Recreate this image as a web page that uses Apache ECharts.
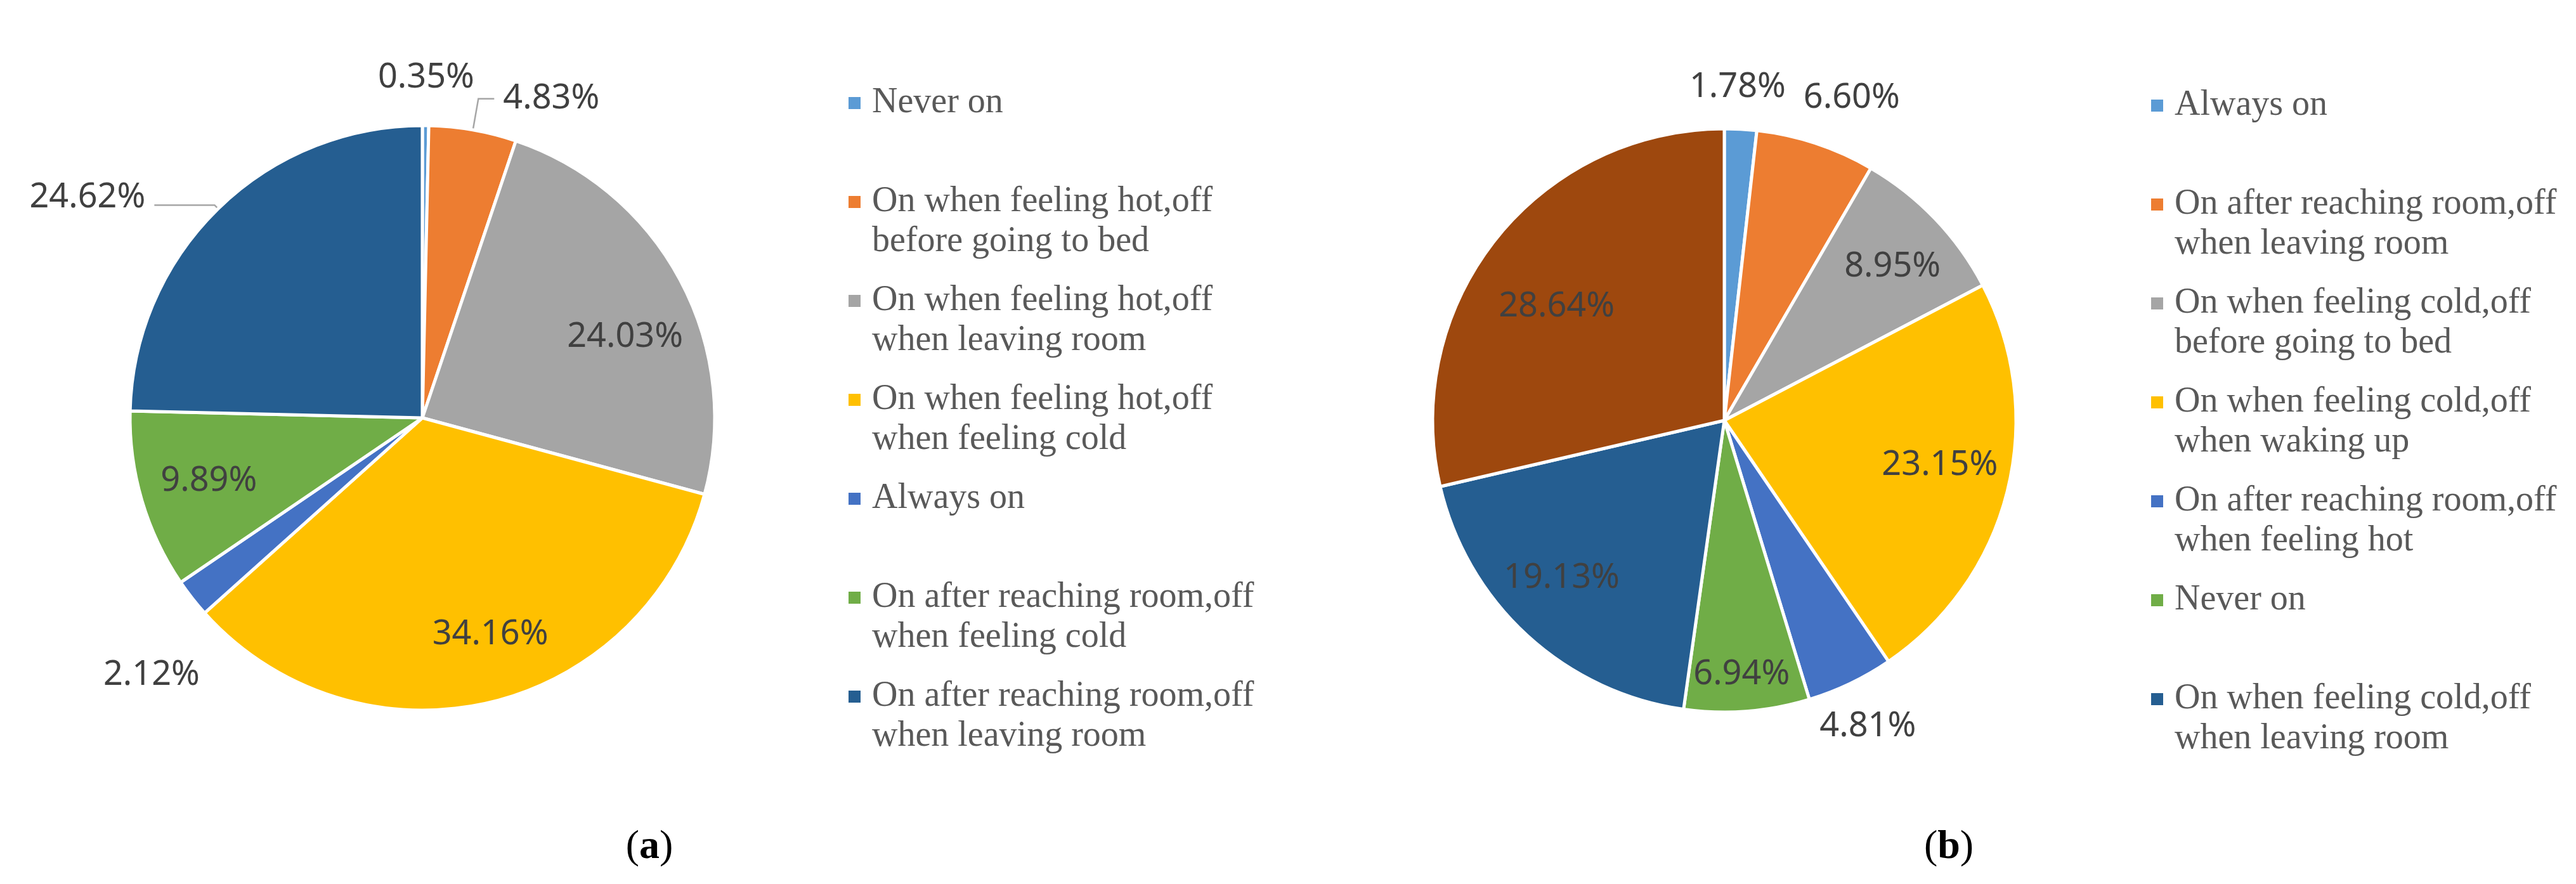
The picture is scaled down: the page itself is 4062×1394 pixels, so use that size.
<!DOCTYPE html>
<html>
<head>
<meta charset="utf-8">
<script src="https://cdn.jsdelivr.net/npm/echarts@6/dist/echarts.min.js"></script>
<style>
  html, body { margin: 0; background: #fff; }
  #chart { width: 4062px; height: 1394px; }
</style>
</head>
<body>
<div id="chart"></div>
<script>
// (a) summer
const namesA = [
  'Never on',
  'On when feeling hot,off before going to bed',
  'On when feeling hot,off when leaving room',
  'On when feeling hot,off when feeling cold',
  'Always on',
  'On after reaching room,off when feeling cold',
  'On after reaching room,off when leaving room'
];
const valuesA = [0.35, 4.83, 24.03, 34.16, 2.12, 9.89, 24.62];

// (b) winter - last slice has no legend entry in the figure
const namesB = [
  'Always on',
  'On after reaching room,off when leaving room',
  'On when feeling cold,off before going to bed',
  'On when feeling cold,off when waking up',
  'On after reaching room,off when feeling hot',
  'Never on',
  'On when feeling cold,off when leaving room',
  'Other'
];
const valuesB = [1.78, 6.60, 8.95, 23.15, 4.81, 6.94, 19.13, 28.64];
const legendNamesB = namesB.slice(0, 7);

const colorsA = ['#5B9BD5', '#ED7D31', '#A5A5A5', '#FFC000', '#4472C4', '#70AD47', '#255E91'];
const colorsB = ['#5B9BD5', '#ED7D31', '#A5A5A5', '#FFC000', '#4472C4', '#70AD47', '#255E91', '#9E480E'];

// label placement: in = inside slice, out = just outside, line = with leader line
const placeA = ['out', 'line', 'in', 'in', 'out', 'in', 'line'];
const placeB = ['out', 'out', 'in', 'in', 'out', 'in', 'in', 'in'];
// small label nudges (px) to follow Excel's "best fit"
const nudgeA = [[0, 0], [0, 0], [10, 38], [26, 0], [-5, 75], [0, 0], [0, -12]];
const nudgeB = [[-9, 9], [33, 0], [12, 0], [0, -14], [-5, 0], [0, 51], [-20, -10], [10, 38]];

const labelText = {
  fontFamily: 'Noto Sans',
  fontSize: 54,
  color: '#404040',
  textBorderWidth: 0
};
const pct = p => p.value.toFixed(2) + '%';

function pieSeries(names, values, colors, place, nudge, center, r, lines) {
  const data = keep => values.map((v, i) => {
    const d = {
      name: names[i],
      value: v,
      itemStyle: { color: keep ? 'rgba(0,0,0,0)' : colors[i] },
      label: { show: place[i] === (keep || 'line') }
    };
    if (!keep && lines[i]) d.labelLine = lines[i];
    return d;
  });
  const shift = p => ({ dx: nudge[p.dataIndex][0], dy: nudge[p.dataIndex][1], hideOverlap: false });
  const overlay = (keep, radius) => ({
    type: 'pie',
    center: center,
    radius: radius,
    silent: true,
    avoidLabelOverlap: false,
    itemStyle: { borderWidth: 0 },
    label: Object.assign({ position: 'inside', formatter: pct }, labelText),
    labelLine: { show: false },
    labelLayout: shift,
    emphasis: { disabled: true },
    animation: false,
    data: data(keep)
  });
  return [
    {
      type: 'pie',
      center: center,
      radius: r,
      animation: false,
      itemStyle: { borderColor: '#fff', borderWidth: 5 },
      label: Object.assign({ position: 'outside', formatter: pct, distanceToLabelLine: 14 }, labelText),
      labelLine: { show: true, lineStyle: { color: '#A6A6A6', width: 2.5 } },
      labelLayout: shift,
      emphasis: { disabled: true },
      data: data(null)
    },
    overlay('in', r * 1.51),
    overlay('out', (r + 72) * 2)
  ];
}

function legendFor(names, colors, left, top) {
  return {
    orient: 'vertical',
    left: left,
    top: top,
    padding: 0,
    itemGap: 30,
    itemWidth: 32,
    itemHeight: 126,
    selectedMode: false,
    icon: 'path://M0,0h0.01v0.01h-0.01z M0,22h19v19h-19z M32,126h0.01v0.01h-0.01z',
    itemStyle: { borderWidth: 0 },
    data: names.map((n, i) => ({ name: n, itemStyle: { color: colors[i] } })),
    formatter: n => n.indexOf(',off ') > 0 ? n.replace(',off ', ',off\n') : n + '\n ',
    textStyle: {
      fontFamily: 'Liberation Serif',
      fontSize: 56,
      lineHeight: 63,
      color: '#595959'
    }
  };
}

const captionRich = {
  p: { fontFamily: 'Liberation Serif', fontSize: 64, color: '#000' },
  b: { fontFamily: 'Liberation Serif', fontSize: 64, fontWeight: 'bold', color: '#000' }
};

const chart = echarts.init(document.getElementById('chart'));
chart.setOption({
  backgroundColor: '#fff',
  legend: [
    legendFor(namesA, colorsA, 1338, 131),
    legendFor(legendNamesB, colorsB, 3392, 135)
  ],
  series: [].concat(
    pieSeries(namesA, valuesA, colorsA, placeA, nudgeA, [666, 659], 461, {
      1: { length: 50, length2: 25 },
      6: { length: 8, length2: 95 }
    }),
    pieSeries(namesB, valuesB, colorsB, placeB, nudgeB, [2719, 663], 460, {})
  ),
  graphic: [
    {
      type: 'text', x: 1024, y: 1336,
      style: { text: '{p|(}{b|a}{p|)}', rich: captionRich, align: 'center', verticalAlign: 'middle' }
    },
    {
      type: 'text', x: 3073, y: 1336,
      style: { text: '{p|(}{b|b}{p|)}', rich: captionRich, align: 'center', verticalAlign: 'middle' }
    }
  ]
});
</script>
</body>
</html>
